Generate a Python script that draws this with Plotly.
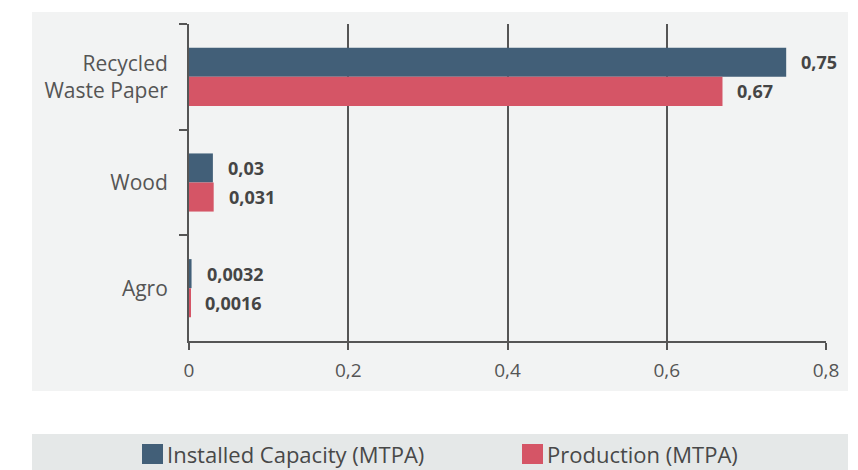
import plotly.graph_objects as go

# Paper pulp raw material: capacity vs production, million tonnes per annum
categories = ["Recycled<br>Waste Paper", "Wood", "Agro"]
installed_capacity = [0.75, 0.03, 0.0032]
production = [0.67, 0.031, 0.0016]
x_ticks = [0, 0.2, 0.4, 0.6, 0.8]
series_names = ["Installed Capacity (MTPA)", "Production (MTPA)"]

BLUE = "#425f78"
RED = "#d55566"
AXIS = "#555555"
FONT = "Open Sans"

W, H = 858, 470
ML, MR, MT, MB = 189, 32, 24, 129
PW, PH = W - ML - MR, H - MT - MB


def px_x(x):
    """Pixel column -> paper x."""
    return (x - ML) / PW


def px_y(y):
    """Pixel row (from top) -> paper y."""
    return (H - MB - y) / PH


def comma(v):
    return str(v).replace(".", ",")


fig = go.Figure()
for name, vals, color in ((series_names[0], installed_capacity, BLUE),
                          (series_names[1], production, RED)):
    fig.add_trace(go.Bar(
        y=categories, x=vals, orientation="h", name=name,
        marker=dict(color=color, line_width=0), showlegend=False,
    ))

# value labels just past the end of each bar
for vals, shift in ((installed_capacity, 14.5), (production, -14.5)):
    for cat, v in zip(categories, vals):
        fig.add_annotation(
            x=v, y=cat, text=comma(v), showarrow=False,
            xanchor="left", yanchor="middle", xshift=13, yshift=shift,
            font=dict(family=FONT, size=18, color="#454545", weight="bold"),
        )

# light panel behind the plot and the legend band
fig.add_shape(type="rect", xref="paper", yref="paper", layer="below",
              x0=px_x(32), x1=px_x(848), y0=px_y(391), y1=px_y(12),
              fillcolor="#f2f3f3", line_width=0)
fig.add_shape(type="rect", xref="paper", yref="paper", layer="below",
              x0=px_x(32), x1=px_x(848), y0=px_y(470), y1=px_y(434),
              fillcolor="#e5e8e8", line_width=0)

# legend: colour swatch followed by the series name
for name, color, left in ((series_names[0], BLUE, 142), (series_names[1], RED, 522)):
    fig.add_shape(type="rect", xref="paper", yref="paper",
                  x0=px_x(left), x1=px_x(left + 21), y0=px_y(464), y1=px_y(444),
                  fillcolor=color, line_width=0)
    fig.add_annotation(
        xref="paper", yref="paper", x=px_x(left + 23), y=px_y(454),
        text=name, showarrow=False, xanchor="left", yanchor="middle",
        font=dict(family=FONT, size=22, color="#484848", weight=500),
    )

fig.update_layout(
    width=W, height=H,
    margin=dict(l=ML, r=MR, t=MT, b=MB),
    paper_bgcolor="white", plot_bgcolor="rgba(0,0,0,0)",
    separators=",.",
    barmode="group", bargap=0.45, bargroupgap=0,
    font=dict(family=FONT, color=AXIS),
    showlegend=False,
    xaxis=dict(
        range=[0, 0.8], tickvals=x_ticks, ticktext=[comma(t) for t in x_ticks],
        showgrid=True, gridcolor=AXIS, gridwidth=2,
        showline=True, linecolor=AXIS, linewidth=2,
        ticks="outside", ticklen=7, tickcolor=AXIS, tickwidth=2,
        tickfont=dict(size=19, color=AXIS), zeroline=False, ticklabelstandoff=4,
    ),
    yaxis=dict(
        categoryorder="array", categoryarray=categories, autorange="reversed",
        showline=True, linecolor=AXIS, linewidth=2,
        ticks="outside", tickson="boundaries", ticklen=8, tickcolor=AXIS, tickwidth=2,
        tickfont=dict(size=21, color=AXIS), showgrid=False, ticklabelstandoff=15,
    ),
)

fig.write_html("out.html")
